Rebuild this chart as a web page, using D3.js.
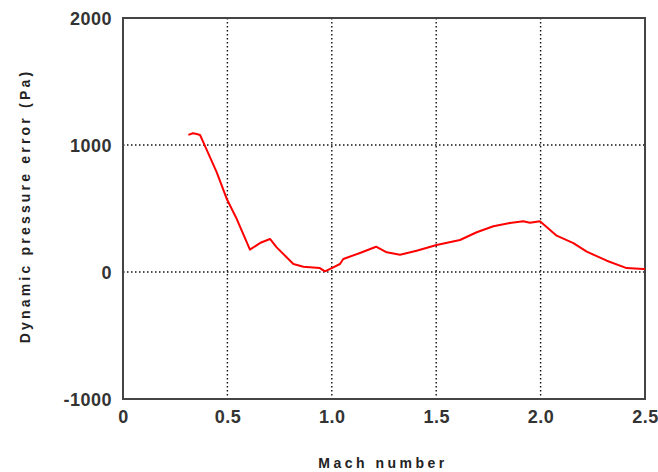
<!DOCTYPE html>
<html><head><meta charset="utf-8">
<script src="https://cdn.jsdelivr.net/npm/d3@7"></script>
<style>body{margin:0;background:#fff}</style>
</head><body>
<svg id="c" width="658" height="472"></svg>
<script>
const mach = [0.313,0.335,0.353,0.369,0.385,0.449,0.497,0.545,0.608,0.656,0.704,0.736,0.816,0.864,0.943,0.967,1.007,1.039,1.055,1.135,1.212,1.263,1.327,1.406,1.502,1.614,1.694,1.774,1.853,1.917,1.949,1.997,2.077,2.157,2.221,2.317,2.412,2.492,2.5];
const errPa = [1080,1092,1087,1079,1021,785,575,417,176,228,260,194,63,42,31,5,37,63,102,150,199,155,136,168,213,252,313,360,386,399,388,399,286,228,160,89,31,24,24];
const xTicks = [0,0.5,1.0,1.5,2.0,2.5];
const xTickLabels = ["0","0.5","1.0","1.5","2.0","2.5"];
const yTicks = [-1000,0,1000,2000];
const yTickLabels = ["-1000","0","1000","2000"];
const xGrid = [0.5,1.0,1.5,2.0];
const yGrid = [0,1000];
const xTitle = "Mach number";
const yTitle = "Dynamic pressure error (Pa)";

const svg = d3.select("#c");
const L=123,R=645,T=18,B=399;
const x = d3.scaleLinear().domain([0,2.5]).range([L,R]);
const y = d3.scaleLinear().domain([-1000,2000]).range([B,T]);

// grid
svg.append("g").selectAll("line").data(xGrid).join("line")
  .attr("x1",d=>x(d)).attr("x2",d=>x(d)).attr("y1",T).attr("y2",B)
  .attr("stroke","#111").attr("stroke-width",1.4).attr("stroke-dasharray","1.5,2.5");
svg.append("g").selectAll("line").data(yGrid).join("line")
  .attr("y1",d=>y(d)).attr("y2",d=>y(d)).attr("x1",L).attr("x2",R)
  .attr("stroke","#111").attr("stroke-width",1.4).attr("stroke-dasharray","1.5,2.5");

// frame
svg.append("rect").attr("x",L).attr("y",T).attr("width",R-L).attr("height",B-T)
  .attr("fill","none").attr("stroke","#444").attr("stroke-width",2);

// axes labels
const font = "'Liberation Sans', Arial, sans-serif";
const xa = d3.axisBottom(x).tickValues(xTicks).tickFormat((d,i)=>xTickLabels[i]).tickSize(0).tickPadding(0);
const gx = svg.append("g").attr("transform",`translate(0,${B})`).call(xa);
gx.select(".domain").remove();
gx.selectAll("text").attr("y",24).attr("dy",0).attr("font-family",font).attr("font-size",18)
  .attr("font-weight","bold").attr("fill","#333").attr("letter-spacing","0.5px");

const ya = d3.axisLeft(y).tickValues(yTicks).tickFormat((d,i)=>yTickLabels[i]).tickSize(0).tickPadding(0);
const gy = svg.append("g").attr("transform",`translate(${L},0)`).call(ya);
gy.select(".domain").remove();
gy.selectAll("text").attr("x",-11).attr("dy","0.35em").attr("font-family",font).attr("font-size",18)
  .attr("font-weight","bold").attr("fill","#333").attr("letter-spacing","0.5px");

svg.append("text").attr("x",(L+R)/2-1).attr("y",468).attr("text-anchor","middle")
  .attr("font-family",font).attr("font-size",14).attr("font-weight","bold").attr("letter-spacing","3.5px")
  .attr("fill","#222").text(xTitle);
svg.append("text").attr("transform","translate(30,206) rotate(-90)").attr("text-anchor","middle")
  .attr("font-family",font).attr("font-size",14).attr("font-weight","bold").attr("letter-spacing","3.2px")
  .attr("fill","#222").text(yTitle);

// line
svg.append("path").datum(mach.map((m,i)=>[m,errPa[i]]))
  .attr("d",d3.line().x(d=>x(d[0])).y(d=>y(d[1])))
  .attr("fill","none").attr("stroke","#f00").attr("stroke-width",2).attr("stroke-linejoin","round");
</script>
</body></html>
